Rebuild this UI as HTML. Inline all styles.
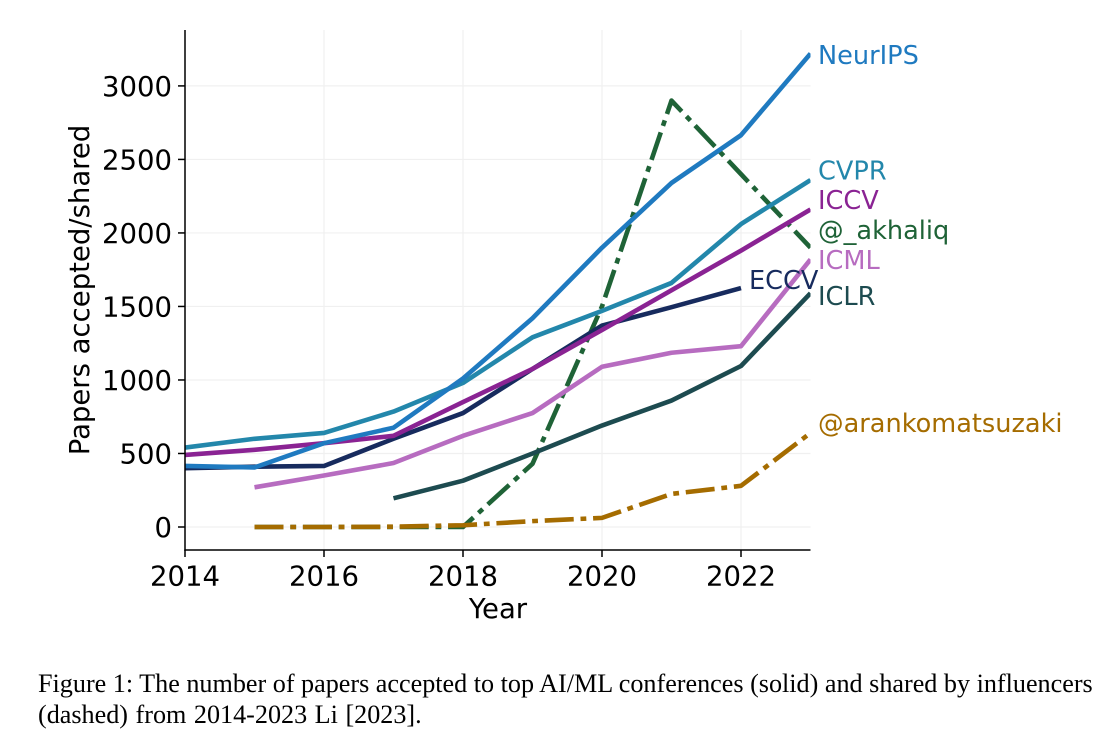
<!DOCTYPE html>
<html lang="en">
<head>
<meta charset="utf-8">
<title>Papers accepted and shared, 2014-2023</title>
<style>
html,body{margin:0;padding:0;background:#fff;width:1108px;height:754px;overflow:hidden}
svg{display:block}
.tick{font-family:"DejaVu Sans","Liberation Sans",sans-serif;font-size:27.5px;fill:#000}
.lab{font-family:"DejaVu Sans","Liberation Sans",sans-serif;font-size:25.6px}
.cap{font-family:"Liberation Serif","Times New Roman",serif;font-size:26.15px;fill:#000}
</style>
</head>
<body>
<svg id="chart" width="1108" height="754" viewBox="0 0 1108 754" xmlns="http://www.w3.org/2000/svg">
<defs><clipPath id="plot-clip"><rect x="185" y="30" width="625.5" height="520"/></clipPath></defs>
<g id="grid"></g>
<g id="series" clip-path="url(#plot-clip)"></g>
<g id="axes"></g>
<g id="labels"></g>
<text class="tick" x="498" y="618" text-anchor="middle">Year</text>
<text class="tick" transform="translate(89,290) rotate(-90)" text-anchor="middle">Papers accepted/shared</text>
<text class="cap" x="38" y="692">Figure 1: The number of papers accepted to top AI/ML conferences (solid) and shared by influencers</text>
<text class="cap" x="38" y="723" word-spacing="1">(dashed) from 2014-2023 Li [2023].</text>
</svg>
<script>
const years = [2014, 2015, 2016, 2017, 2018, 2019, 2020, 2021, 2022, 2023];
const xTicks = [2014, 2016, 2018, 2020, 2022];
const yTicks = [0, 500, 1000, 1500, 2000, 2500, 3000];
const neurips = [415, 405, 570, 675, 1010, 1420, 1900, 2340, 2665, 3220];
const cvpr = [540, 600, 640, 785, 980, 1290, 1470, 1660, 2060, 2360];
const iccv = [490, 525, 570, 620, 850, 1075, 1340, 1610, 1880, 2160];
const eccv = [400, 410, 415, 600, 775, 1075, 1370, 1495, 1625, null];
const icml = [null, 270, 350, 435, 620, 775, 1090, 1185, 1230, 1820];
const iclr = [null, null, null, 195, 315, 500, 690, 860, 1095, 1590];
const akhaliq = [null, 0, 0, 0, 0, 430, 1500, 2900, 2400, 1900];
const aran = [null, 0, 0, 2, 12, 40, 62, 225, 280, 640];
const NS = 'http://www.w3.org/2000/svg';
function xScale(year) { return 185 + (year - 2014) * 69.5; }
function yScale(value) { return 527 - value * 0.14703; }
function make(tag, attrs, parent) {
  const el = document.createElementNS(NS, tag);
  for (const k in attrs) el.setAttribute(k, attrs[k]);
  parent.appendChild(el);
  return el;
}
const gridG = document.getElementById('grid');
const axesG = document.getElementById('axes');
const seriesG = document.getElementById('series');
const labelsG = document.getElementById('labels');
xTicks.forEach(function (t) {
  const x = xScale(t);
  const g = make('line', { x1: x, x2: x, y1: 30, y2: 550, stroke: '#f0f0f0', 'stroke-width': 1.2 }, gridG);
  
  
  const m = make('line', { x1: x, x2: x, y1: 550, y2: 557, stroke: '#000', 'stroke-width': 1.5 }, axesG);
  
  
  const l = make('text', { x: x, y: 585.5, 'text-anchor': 'middle', class: 'tick' }, axesG);
  l.textContent = t;
  
  
});
yTicks.forEach(function (t) {
  const y = yScale(t);
  const g = make('line', { x1: 185, x2: 810.5, y1: y, y2: y, stroke: '#f0f0f0', 'stroke-width': 1.2 }, gridG);
  
  
  const m = make('line', { x1: 178, x2: 185, y1: y, y2: y, stroke: '#000', 'stroke-width': 1.5 }, axesG);
  
  
  const l = make('text', { x: 172, y: y + 10, 'text-anchor': 'end', class: 'tick' }, axesG);
  l.textContent = t;
  
  
});
const ySpine = make('line', { x1: 185, x2: 185, y1: 30, y2: 550.7, stroke: '#000', 'stroke-width': 1.5 }, axesG);


const xSpine = make('line', { x1: 184.3, x2: 810.5, y1: 550, y2: 550, stroke: '#000', 'stroke-width': 1.5 }, axesG);


function drawSeries(values, color, dashed, name) {
  const pts = [];
  values.forEach(function (v, i) {
    if (v !== null) pts.push(xScale(years[i]).toFixed(2) + ',' + yScale(v).toFixed(2));
  });
  const line = make('polyline', { points: pts.join(' '), fill: 'none', stroke: color, 'stroke-width': 4.6, 'stroke-linejoin': 'round' }, seriesG);
  if (dashed) line.setAttribute('stroke-dasharray', '29 6.8 5.8 6.8');
  
  
}
drawSeries(akhaliq, '#1f6337', true, 'line-akhaliq');
drawSeries(iclr, '#1d4b50', false, 'line-iclr');
drawSeries(icml, '#b76cc0', false, 'line-icml');
drawSeries(eccv, '#172b5e', false, 'line-eccv');
drawSeries(iccv, '#8a2393', false, 'line-iccv');
drawSeries(cvpr, '#2387ab', false, 'line-cvpr');
drawSeries(neurips, '#1f7ac0', false, 'line-neurips');
drawSeries(aran, '#a56c00', true, 'line-arankomatsuzaki');
function drawLabel(text, x, y, color, name) {
  const t = make('text', { x: x, y: y, fill: color, class: 'lab' }, labelsG);
  t.textContent = text;
  
  
}
drawLabel('NeurIPS', 818, 64, '#1f7ac0', 'label-neurips');
drawLabel('CVPR', 818, 179.5, '#2387ab', 'label-cvpr');
drawLabel('ICCV', 818, 209, '#8a2393', 'label-iccv');
drawLabel('@_akhaliq', 818, 239, '#1f6337', 'label-akhaliq');
drawLabel('ICML', 818, 269, '#b76cc0', 'label-icml');
drawLabel('ECCV', 749, 289, '#172b5e', 'label-eccv');
drawLabel('ICLR', 818, 305, '#1d4b50', 'label-iclr');
drawLabel('@arankomatsuzaki', 818, 432, '#a56c00', 'label-arankomatsuzaki');
</script>
</body>
</html>
